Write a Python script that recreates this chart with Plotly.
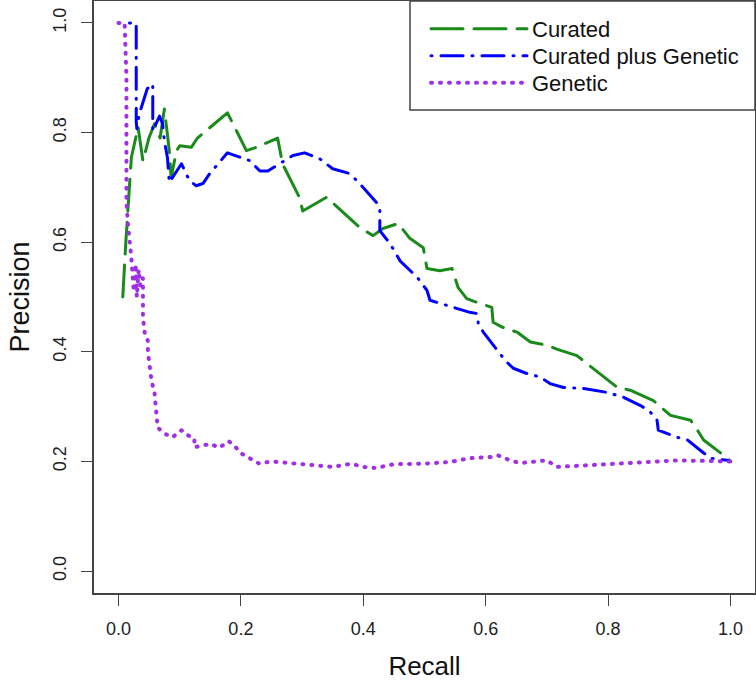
import plotly.graph_objects as go

# ---- data ----
curated_recall = [0.007, 0.012, 0.021, 0.026, 0.032, 0.040, 0.050, 0.059, 0.068, 0.075,
                  0.083, 0.086, 0.095, 0.100, 0.119, 0.129, 0.178, 0.209, 0.225, 0.260,
                  0.268, 0.296, 0.301, 0.340, 0.367, 0.394, 0.416, 0.432, 0.457, 0.476,
                  0.498, 0.504, 0.525, 0.545, 0.555, 0.569, 0.591, 0.610, 0.612, 0.627,
                  0.651, 0.673, 0.700, 0.716, 0.749, 0.765, 0.787, 0.815, 0.836, 0.874,
                  0.902, 0.935, 0.946, 0.956, 0.995, 1.000]
curated_precision = [0.500, 0.600, 0.754, 0.780, 0.810, 0.748, 0.791, 0.816, 0.790, 0.843,
                     0.767, 0.718, 0.767, 0.776, 0.773, 0.790, 0.836, 0.767, 0.773, 0.790,
                     0.743, 0.681, 0.657, 0.682, 0.654, 0.627, 0.612, 0.625, 0.634, 0.607,
                     0.590, 0.552, 0.548, 0.552, 0.517, 0.497, 0.488, 0.481, 0.454, 0.445,
                     0.436, 0.418, 0.412, 0.405, 0.393, 0.379, 0.360, 0.335, 0.330, 0.311,
                     0.284, 0.275, 0.257, 0.239, 0.206, 0.200]

cpg_recall = [0.018, 0.029, 0.029, 0.030, 0.034, 0.047, 0.056, 0.056, 0.056, 0.067,
              0.072, 0.075, 0.080, 0.083, 0.097, 0.103, 0.116, 0.127, 0.138, 0.149,
              0.178, 0.195, 0.214, 0.231, 0.244, 0.263, 0.285, 0.304, 0.329, 0.350,
              0.378, 0.394, 0.408, 0.422, 0.427, 0.427, 0.444, 0.460, 0.488, 0.504,
              0.509, 0.536, 0.555, 0.574, 0.585, 0.588, 0.596, 0.624, 0.632, 0.645,
              0.668, 0.689, 0.705, 0.727, 0.760, 0.798, 0.825, 0.853, 0.869, 0.880,
              0.882, 0.913, 0.930, 0.951, 0.967, 0.995, 1.000]
cpg_precision = [1.000, 1.000, 0.820, 0.807, 0.834, 0.880, 0.889, 0.836, 0.803, 0.830,
                 0.816, 0.785, 0.754, 0.709, 0.734, 0.743, 0.712, 0.703, 0.707, 0.725,
                 0.763, 0.756, 0.749, 0.730, 0.730, 0.743, 0.758, 0.763, 0.752, 0.734,
                 0.725, 0.707, 0.690, 0.672, 0.661, 0.621, 0.597, 0.566, 0.536, 0.512,
                 0.494, 0.485, 0.479, 0.472, 0.470, 0.452, 0.436, 0.397, 0.384, 0.370,
                 0.360, 0.354, 0.342, 0.335, 0.333, 0.326, 0.317, 0.302, 0.290, 0.275,
                 0.257, 0.244, 0.239, 0.220, 0.206, 0.202, 0.200]

genetic_recall = [0.000, 0.010, 0.013, 0.013, 0.015, 0.018, 0.021, 0.025, 0.028, 0.030,
                  0.033, 0.036, 0.040, 0.040, 0.040, 0.043, 0.048, 0.048, 0.051, 0.054,
                  0.059, 0.062, 0.064, 0.075, 0.088, 0.103, 0.113, 0.124, 0.124, 0.150,
                  0.165, 0.180, 0.190, 0.200, 0.210, 0.230, 0.250, 0.300, 0.350, 0.380,
                  0.400, 0.420, 0.450, 0.500, 0.542, 0.574, 0.607, 0.620, 0.640, 0.656,
                  0.700, 0.716, 0.760, 0.815, 0.913, 1.000]
genetic_precision = [1.000, 1.000, 0.900, 0.676, 0.639, 0.608, 0.572, 0.510, 0.560, 0.500,
                     0.550, 0.520, 0.534, 0.500, 0.463, 0.433, 0.420, 0.400, 0.378, 0.348,
                     0.324, 0.287, 0.262, 0.251, 0.244, 0.257, 0.248, 0.242, 0.226, 0.232,
                     0.225, 0.237, 0.228, 0.215, 0.208, 0.196, 0.200, 0.195, 0.190, 0.196,
                     0.190, 0.188, 0.195, 0.196, 0.199, 0.206, 0.208, 0.211, 0.202, 0.197,
                     0.202, 0.190, 0.193, 0.197, 0.202, 0.200]

tick_vals = [0.0, 0.2, 0.4, 0.6, 0.8, 1.0]
tick_text = ["0.0", "0.2", "0.4", "0.6", "0.8", "1.0"]

FONT = "Liberation Sans, Arial, Helvetica, sans-serif"
W, H = 756, 681
ML, MR, MT, MB = 94, 1, 1, 88
PW, PH = W - ML - MR, H - MT - MB


def px_to_paper_x(px):
    return (px - ML) / PW


def px_to_paper_y(py):
    return 1 - (py - MT) / PH


fig = go.Figure()
fig.add_trace(go.Scatter(x=curated_recall, y=curated_precision, mode="lines",
                         name="Curated", legend="legend",
                         line=dict(color="#1a8a1a", width=3, dash="32px,11px")))
fig.add_trace(go.Scatter(x=cpg_recall, y=cpg_precision, mode="lines",
                         name="Curated plus Genetic", legend="legend2",
                         line=dict(color="#0000ff", width=3, dash="1px,9px,22px,9px")))
fig.add_trace(go.Scatter(x=genetic_recall, y=genetic_precision, mode="lines",
                         name="Genetic", legend="legend3",
                         line=dict(color="#a030e8", width=4, dash="1px,8px")))

axis_common = dict(range=[-0.04, 1.04], tickvals=tick_vals, ticktext=tick_text,
                   showline=True, mirror=True, linecolor="#444", linewidth=1.5,
                   ticks="outside", ticklen=11, tickwidth=1.2, tickcolor="#444",
                   showgrid=False, zeroline=False, automargin=False,
                   tickfont=dict(family=FONT, size=18, color="#222"))


def legend_at(row_center_px):
    return dict(x=px_to_paper_x(426), xanchor="left",
                y=px_to_paper_y(row_center_px), yanchor="middle",
                bgcolor="rgba(0,0,0,0)", borderwidth=0,
                font=dict(family=FONT, size=22, color="#111"),
                itemwidth=96)


fig.update_layout(
    width=W, height=H,
    margin=dict(l=ML, r=MR, t=MT, b=MB, autoexpand=False),
    paper_bgcolor="white", plot_bgcolor="white",
    font=dict(family=FONT, color="#111"),
    xaxis=dict(**axis_common, ticklabelstandoff=8,
               title=dict(text="Recall", font=dict(family=FONT, size=26, color="#111"), standoff=18)),
    yaxis=dict(**axis_common, tickangle=-90, ticklabelstandoff=8,
               title=dict(text="Precision", font=dict(family=FONT, size=27, color="#111"), standoff=13)),
    legend=legend_at(29),
    legend2=legend_at(56),
    legend3=legend_at(83),
    showlegend=True,
    shapes=[dict(type="rect", xref="paper", yref="paper", layer="above",
                 x0=px_to_paper_x(410), x1=1.0,
                 y0=px_to_paper_y(110), y1=1.0,
                 line=dict(color="#444", width=1.5), fillcolor="white")],
)

post = ("document.body.style.margin='0';document.body.style.overflow='hidden';"
        "document.querySelectorAll('path.js-line').forEach(function(p){"
        "p.style.strokeLinecap='round';p.style.strokeLinejoin='round';});")
fig.write_html("out.html", config={"displayModeBar": False}, post_script=post)
